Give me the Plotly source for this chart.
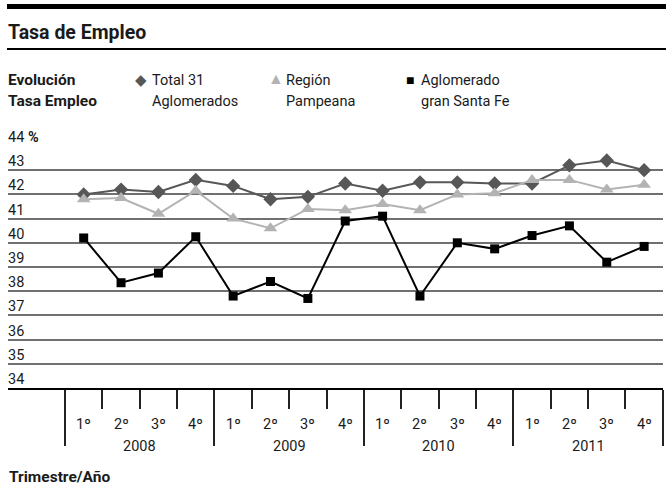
import plotly.graph_objects as go

# quarters 2008 Q1 .. 2011 Q4
quarters = ['1º', '2º', '3º', '4º'] * 4
years = ['2008', '2009', '2010', '2011']

total_31 = [42.0, 42.2, 42.1, 42.6, 42.35, 41.8, 41.9, 42.45,
            42.15, 42.5, 42.5, 42.45, 42.45, 43.2, 43.4, 43.0]
pampeana = [41.8, 41.85, 41.2, 42.15, 41.0, 40.6, 41.4, 41.35,
            41.6, 41.35, 42.0, 42.05, 42.6, 42.6, 42.2, 42.4]
santa_fe = [40.2, 38.35, 38.75, 40.25, 37.8, 38.4, 37.7, 40.9,
            41.1, 37.8, 40.0, 39.75, 40.3, 40.7, 39.2, 39.85]

y_ticks = [44, 43, 42, 41, 40, 39, 38, 37, 36, 35, 34]

FONT = 'Roboto'
TXT = '#1a1a1a'

# plot area in pixels
W, H = 666, 486
L, R, T, B = 8, 663, 146, 388


def px2x(px):
	return (px - L) / (R - L)


def py2y(py):
	return (B - py) / (B - T)


xs = list(range(len(quarters)))

fig = go.Figure()

fig.add_trace(go.Scatter(x=xs, y=total_31, mode='lines+markers', name='Total 31 Aglomerados',
						 line=dict(color='#575757', width=2),
						 marker=dict(symbol='diamond', size=11, color='#575757')))
fig.add_trace(go.Scatter(x=xs, y=pampeana, mode='lines+markers', name='Región Pampeana',
						 line=dict(color='#b3b3b3', width=2),
						 marker=dict(symbol='triangle-up', size=12, color='#b3b3b3')))
fig.add_trace(go.Scatter(x=xs, y=santa_fe, mode='lines+markers', name='Aglomerado gran Santa Fe',
						 line=dict(color='#000000', width=2),
						 marker=dict(symbol='square', size=9, color='#000000')))

ann = []


def text(x, y, s, size=14.5, anchor='left', bold=False, color=TXT):
	if bold:
		s = f'<b>{s}</b>'
	ann.append(dict(x=px2x(x), y=py2y(y), xref='paper', yref='paper', text=s, showarrow=False,
					xanchor=anchor, yanchor='middle', font=dict(family=FONT, size=size, color=color)))


# header
text(6, 33, 'Tasa de Empleo', size=19.5, bold=True)
text(6, 80, 'Evolución', size=15.5, bold=True)
text(6, 101, 'Tasa Empleo', size=15.5, bold=True)

# legend
text(141, 80, '◆', size=15, anchor='center', color='#575757')
text(150, 80, 'Total 31')
text(150, 101, 'Aglomerados')
text(276, 79, '▲', size=16, anchor='center', color='#b3b3b3')
text(284, 80, 'Región')
text(284, 101, 'Pampeana')
text(410, 80, '■', size=14, anchor='center', color='#000000')
text(419, 80, 'Aglomerado')
text(419, 101, 'gran Santa Fe')

# y tick labels sitting above the gridlines
for v in y_ticks:
	label = f'{v} <b>%</b>' if v == 44 else str(v)
	ann.append(dict(x=0, y=v, xref='paper', yref='y', text=label, showarrow=False,
					xanchor='left', yanchor='bottom', xshift=-2, yshift=-2,
					font=dict(family=FONT, size=14.5, color=TXT)))

# quarter and year labels
for i, q in enumerate(quarters):
	ann.append(dict(x=i, y=py2y(424), xref='x', yref='paper', text=q, showarrow=False,
					xanchor='center', yanchor='middle', font=dict(family=FONT, size=14.5, color=TXT)))
for j, yr in enumerate(years):
	ann.append(dict(x=j * 4 + 1.5, y=py2y(446), xref='x', yref='paper', text=yr, showarrow=False,
					xanchor='center', yanchor='middle', font=dict(family=FONT, size=14.5, color=TXT)))

text(7, 477, 'Trimestre/Año', size=15.5, bold=True)

shapes = [
	# thick bar at the top and the rule under the title
	dict(type='rect', xref='paper', yref='paper', x0=px2x(7), x1=px2x(W), y0=py2y(4), y1=py2y(9),
		 fillcolor='#000000', line_width=0),
	dict(type='line', xref='paper', yref='paper', x0=px2x(7), x1=px2x(W), y0=py2y(49), y1=py2y(49),
		 line=dict(color='#000000', width=2)),
]

fig.update_layout(
	width=W, height=H,
	margin=dict(l=L, r=W - R, t=T, b=H - B),
	paper_bgcolor='white', plot_bgcolor='white',
	showlegend=False,
	annotations=ann,
	shapes=shapes,
	xaxis=dict(range=[-2.026, 15.505], showgrid=False, zeroline=False,
			   showline=True, linecolor='#000000', linewidth=2,
			   tickmode='array', tickvals=[-0.5, 3.5, 7.5, 11.5, 15.5], showticklabels=False,
			   ticks='outside', ticklen=56, tickwidth=1.5, tickcolor='#222222',
			   minor=dict(tickmode='array', tickvals=[0.5, 1.5, 2.5, 4.5, 5.5, 6.5, 8.5, 9.5, 10.5, 12.5, 13.5, 14.5],
						  ticks='outside', ticklen=19, tickwidth=1.5, tickcolor='#222222', showgrid=False)),
	yaxis=dict(range=[34, 44], tickmode='array', tickvals=y_ticks, showticklabels=False,
			   showgrid=True, gridcolor='#707070', gridwidth=2, zeroline=False, showline=False),
)

# drop the browser's default 8px body margin so the figure sits at the page corner
fig.write_html('out.html', config={'displayModeBar': False},
			   post_script="document.body.style.margin='0';")
